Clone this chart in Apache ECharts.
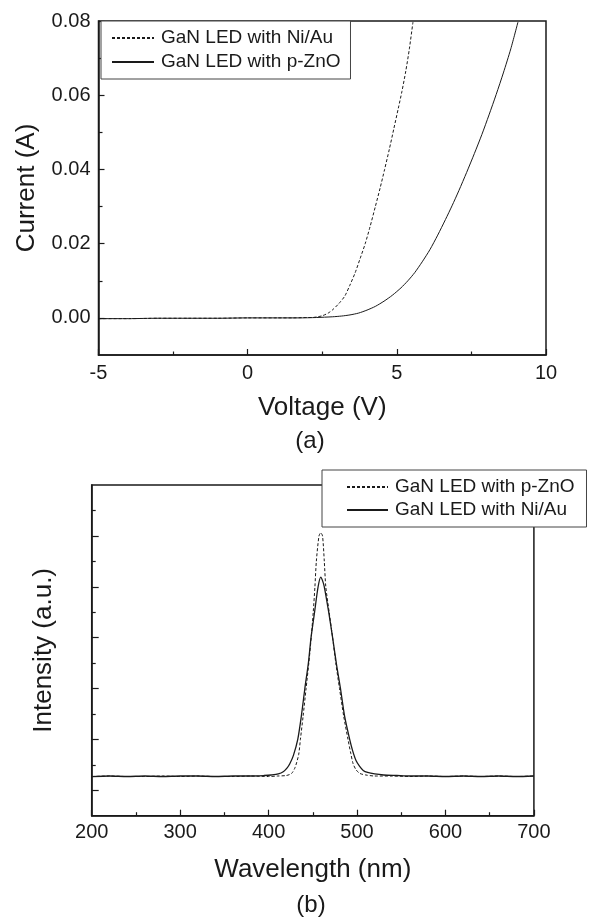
<!DOCTYPE html>
<html>
<head>
<meta charset="utf-8">
<script src="https://cdn.jsdelivr.net/npm/echarts@6/dist/echarts.min.js"></script>
<style>
html,body{margin:0;padding:0;background:#fff;}
#c{width:594px;height:918px;}
</style>
</head>
<body>
<div id="c"></div>
<script>
// ---- (a) I-V curves ----
const niAuV = [-5,-4,-3,-2,-1,0,1,1.5,2,2.17,2.35,2.51,2.7,2.85,3.05,3.25,3.42,3.6,3.77,3.94,4.1,4.28,4.44,4.59,4.75,4.9,5.05,5.17,5.3,5.42,5.54];
const niAuI = [-0.0002,-0.0002,-0.0001,-0.0001,-0.0001,0,0,0,0.0001,0.0001,0.0003,0.0006,0.0013,0.0022,0.0038,0.0058,0.0087,0.0121,0.016,0.020,0.0245,0.030,0.035,0.040,0.0455,0.051,0.0565,0.061,0.0665,0.0725,0.0797];
const pZnOV = [-5,-4,-3,-2,-1,0,1,1.71,2.3,2.85,3.15,3.43,3.72,4.0,4.28,4.57,4.85,5.14,5.37,5.6,5.85,6.11,6.37,6.63,6.85,7.08,7.34,7.6,7.85,8.09,8.33,8.57,8.82,9.06];
const pZnOI = [-0.0002,-0.0002,-0.0001,-0.0001,-0.0001,0,0,0,0.0001,0.0003,0.0005,0.0008,0.0013,0.0021,0.0031,0.0045,0.0061,0.0081,0.0100,0.0122,0.0151,0.0184,0.0223,0.0265,0.0302,0.0343,0.0392,0.0443,0.0494,0.0547,0.0602,0.0660,0.0725,0.0797];
const ivLegend = ['GaN LED with Ni/Au','GaN LED with p-ZnO'];
const yTopLabels = [0,0.02,0.04,0.06,0.08];
const yTopMinor = [0.01,0.03,0.05,0.07];

// ---- (b) EL spectra ----
const specZnOWl = [200,220,240,260,280,300,320,340,360,380,400,410,420,426,430,434,436,439,442.4,445.5,448.2,450.5,452.4,454,457,459,461,463,464.7,468.5,472.4,476,480.2,485,489.8,493,495.6,499,503.3,510,520,540,560,580,600,620,640,660,680,700];
const specZnOInt = [0.27,0.28,0.27,0.27,0.28,0.27,0.28,0.27,0.27,0.28,0.27,0.28,0.29,0.33,0.45,0.70,1.00,1.45,2.00,2.50,3.00,3.50,4.00,4.50,5.00,5.06,5.00,4.50,4.00,3.50,3.00,2.50,2.00,1.45,1.00,0.72,0.52,0.40,0.33,0.30,0.28,0.28,0.27,0.28,0.27,0.28,0.27,0.28,0.27,0.28];
const specNiAuWl = [200,220,240,260,280,300,320,340,360,380,395,403,411,417,421,424,428,433,437,441,445,448,452,456,459,461,463,468,472.4,477,481.3,486,491.7,495,499,503,507,512,520,530,545,560,580,600,620,640,660,680,700];
const specNiAuInt = [0.27,0.28,0.27,0.28,0.27,0.28,0.28,0.27,0.28,0.28,0.29,0.30,0.32,0.37,0.44,0.52,0.68,1.00,1.45,2.00,2.50,3.00,3.50,4.00,4.19,4.12,4.00,3.50,3.00,2.45,2.00,1.45,1.00,0.78,0.58,0.47,0.39,0.35,0.32,0.30,0.29,0.28,0.28,0.27,0.28,0.27,0.28,0.27,0.28];
const specLegend = ['GaN LED with p-ZnO','GaN LED with Ni/Au'];
const yBotMajor = [0,1,2,3,4,5];
const yBotMinor = [0.5,1.5,2.5,3.5,4.5,5.5];

const zip = (a,b) => a.map((v,i)=>[v,b[i]]);
const FF = '"Liberation Sans", Arial, sans-serif';
const INK = '#1a1a1a';
const dash = [3,2];

const chart = echarts.init(document.getElementById('c'), null, {renderer:'canvas'});

function xAxisBase(gi, min, max, interval, name, gap, margin){
  return {
    type:'value', gridIndex:gi, min, max, interval,
    name, nameLocation:'middle', nameGap:gap,
    nameTextStyle:{fontSize:26, color:INK, fontFamily:FF},
    axisLine:{show:true, onZero:false, lineStyle:{color:INK, width:1.5}},
    axisTick:{show:true, inside:true, length:6, lineStyle:{color:INK, width:1.2}},
    minorTick:{show:true, splitNumber:2, length:3.5, lineStyle:{color:INK, width:1.2}},
    axisLabel:{fontSize:20, color:INK, fontFamily:FF, margin},
    splitLine:{show:false}, minorSplitLine:{show:false}
  };
}

function legendBase(names, prefix, left, top, iw, gap, pad){
  return {data:names.map(n=>prefix+n), orient:'vertical', left, top,
    itemWidth:iw, itemHeight:14, itemGap:gap, padding:pad,
    borderColor:'#444', borderWidth:1, borderRadius:0, backgroundColor:'#fff',
    selectedMode:false, formatter:n=>n.split('|')[1],
    itemStyle:{opacity:0},
    textStyle:{fontSize:19, color:INK, fontFamily:FF, lineHeight:20, padding:[0,0,0,2]}};
}

function lineSeries(name, xi, yi, data, type, width){
  return {name, type:'line', xAxisIndex:xi, yAxisIndex:yi, data,
    symbol:'none', smooth:0.25, itemStyle:{opacity:0, color:INK},
    lineStyle:{color:INK, width, type}};
}

const option = {
  animation:false,
  backgroundColor:'#fff',
  grid:[
    {left:98.5, top:21, width:447.5, height:334, show:true, borderColor:INK, borderWidth:1.5, backgroundColor:'transparent'},
    {left:91.7, top:485, width:442.2, height:330.7, show:true, borderColor:INK, borderWidth:1.5, backgroundColor:'transparent'}
  ],
  xAxis:[
    xAxisBase(0, -5, 10, 5, 'Voltage (V)', 40, 8),
    xAxisBase(1, 200, 700, 100, 'Wavelength (nm)', 41, 7)
  ],
  yAxis:[
    {type:'value', gridIndex:0, position:'left', min:-0.01, max:0.08,
     name:'Current (A)', nameLocation:'middle', nameGap:59, nameRotate:90,
     nameTextStyle:{fontSize:26, color:INK, fontFamily:FF},
     axisLine:{show:true, onZero:false, lineStyle:{color:INK, width:1.5}},
     axisTick:{show:true, inside:true, length:6, customValues:yTopLabels, lineStyle:{color:INK, width:1.2}},
     axisLabel:{fontSize:20, color:INK, fontFamily:FF, margin:8, customValues:yTopLabels, formatter:v=>Number(v).toFixed(2)},
     splitLine:{show:false}},
    {type:'value', gridIndex:0, position:'left', offset:0, min:-0.01, max:0.08,
     axisLine:{show:false, onZero:false},
     axisTick:{show:true, inside:true, length:4, customValues:yTopMinor, lineStyle:{color:INK, width:1.2}},
     axisLabel:{show:false}, splitLine:{show:false}},
    {type:'value', gridIndex:1, position:'left', min:-0.5, max:6,
     name:'Intensity (a.u.)', nameLocation:'middle', nameGap:35, nameRotate:90,
     nameTextStyle:{fontSize:26, color:INK, fontFamily:FF},
     axisLine:{show:true, onZero:false, lineStyle:{color:INK, width:1.5}},
     axisTick:{show:true, inside:true, length:7, customValues:yBotMajor, lineStyle:{color:INK, width:1.2}},
     axisLabel:{show:false}, splitLine:{show:false}},
    {type:'value', gridIndex:1, position:'left', offset:0, min:-0.5, max:6,
     axisLine:{show:false, onZero:false},
     axisTick:{show:true, inside:true, length:4, customValues:yBotMinor, lineStyle:{color:INK, width:1.2}},
     axisLabel:{show:false}, splitLine:{show:false}}
  ],
  legend:[
    legendBase(ivLegend, 'a|', 101, 21, 42, 4, [7,10,7,10]),
    legendBase(specLegend, 'b|', 322, 470, 41, 3, [7,12,7,24])
  ],
  series:[
    lineSeries('a|'+ivLegend[0], 0, 0, zip(niAuV,niAuI), dash, 1),
    lineSeries('a|'+ivLegend[1], 0, 0, zip(pZnOV,pZnOI), 'solid', 1),
    lineSeries('b|'+specLegend[0], 1, 2, zip(specZnOWl,specZnOInt), dash, 1),
    lineSeries('b|'+specLegend[1], 1, 2, zip(specNiAuWl,specNiAuInt), 'solid', 1.3)
  ],
  graphic:[
    {type:'text', x:310, y:441, style:{text:'(a)', font:'24px '+FF, fill:INK, textAlign:'center', verticalAlign:'middle', textVerticalAlign:'middle'}},
    {type:'text', x:311, y:905, style:{text:'(b)', font:'24px '+FF, fill:INK, textAlign:'center', verticalAlign:'middle', textVerticalAlign:'middle'}}
  ]
};
chart.setOption(option);
</script>
</body>
</html>
